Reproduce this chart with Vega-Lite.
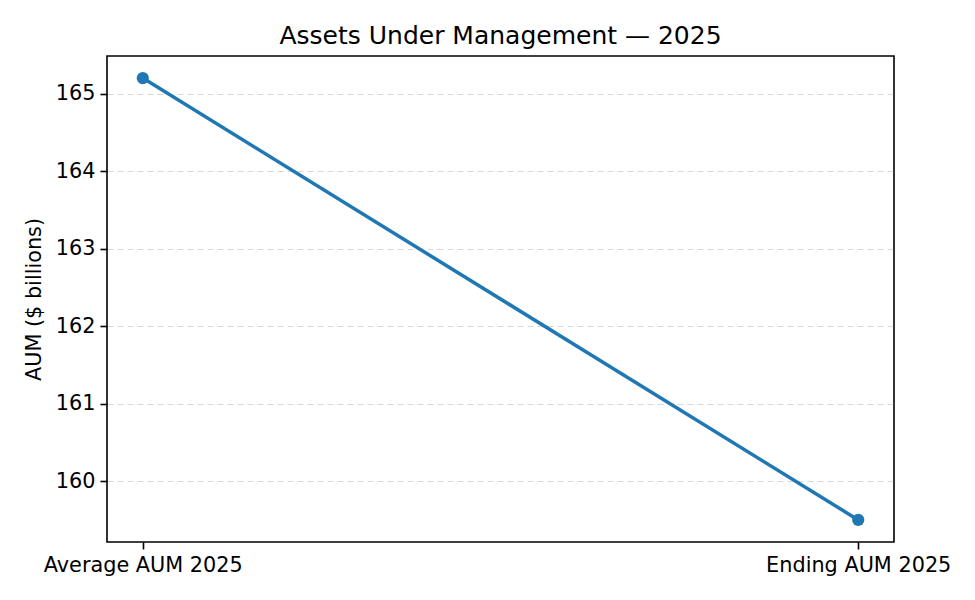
{
  "$schema": "https://vega.github.io/schema/vega-lite/v6.json",
  "autosize": {"type": "none"},
  "width": 787,
  "height": 486,
  "padding": {"left": 107, "top": 56, "right": 81, "bottom": 58},
  "background": "white",
  "title": {"text": "Assets Under Management — 2025", "font": "DejaVu Sans", "fontSize": 25, "fontWeight": "normal", "color": "black", "offset": 7},
  "config": {
    "view": {"stroke": "#000000", "strokeWidth": 1.6},
    "axis": {"labelFont": "DejaVu Sans", "labelFontSize": 20.8, "labelColor": "black", "labelLimit": 0, "titleFont": "DejaVu Sans", "titleFontSize": 20.8, "titleFontWeight": "normal", "titleColor": "black", "tickColor": "#000000", "tickSize": 7, "tickWidth": 1.6, "labelPadding": 5, "domain": false}
  },
  "data": {"values": [
    {"metric": "Average AUM 2025", "aum": 165.2},
    {"metric": "Ending AUM 2025", "aum": 159.5}
  ]},
  "encoding": {
    "x": {"field": "metric", "type": "ordinal", "sort": null, "scale": {"type": "point", "padding": 0.05}, "axis": {"title": null, "labelAngle": 0, "grid": false, "labelPadding": 6}},
    "y": {"field": "aum", "type": "quantitative", "scale": {"domain": [159.215, 165.485], "nice": false, "zero": false}, "axis": {"title": "AUM ($ billions)", "values": [160, 161, 162, 163, 164, 165], "grid": true, "gridColor": "#b0b0b0", "gridOpacity": 0.5, "gridDash": [6, 4], "gridWidth": 1.2, "titlePadding": 11}}
  },
  "layer": [
    {"mark": {"type": "line", "color": "#1f77b4", "strokeWidth": 3.5}},
    {"mark": {"type": "point", "filled": true, "opacity": 1, "color": "#1f77b4", "size": 150}}
  ]
}
